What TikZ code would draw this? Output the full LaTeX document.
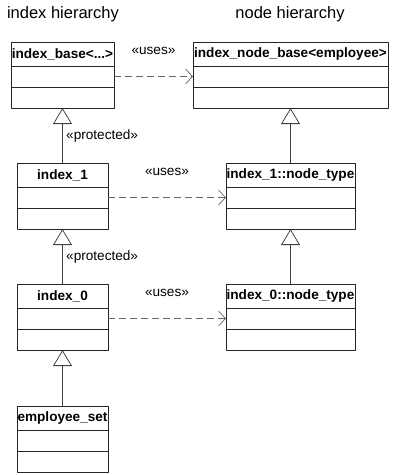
\documentclass[tikz,border=0pt]{standalone}
\usepackage{fontspec}
\setmainfont{Liberation Sans}
\usetikzlibrary{arrows.meta,positioning}
\begin{document}
\begin{tikzpicture}[x=1pt, y=1pt, font=\fontsize{13.6}{16}\selectfont, line join=round,
	head/.style={draw=black!85, line width=0.8pt, minimum height=24pt, inner sep=0pt, outer sep=0pt, font=\fontsize{13.6}{16}\selectfont\bfseries},
	comp/.style={draw=black!85, line width=0.8pt, minimum height=21pt, inner sep=0pt, outer sep=0pt},
	inherit/.style={draw=black!75, line width=0.8pt, -{Triangle[open, length=16pt, width=19pt, fill=white]}},
	uses/.style={draw=black!60, line width=0.7pt, dash pattern=on 7pt off 4pt, -{Straight Barb[length=7pt, width=15pt]}}]
	\useasboundingbox (0,0) rectangle (400,-475);
	\node (ttl) at (63,-14) {\fontsize{16.5}{19}\selectfont index hierarchy};
	\node (ttr) at (290,-14) {\fontsize{16.5}{19}\selectfont node hierarchy};
	% class boxes: header and two empty compartments
	\foreach \n/\x/\y/\w/\t in {ibase/11/42/103/{index\_base<...>}, nbase/193/42/195/{index\_node\_base<employee>},
		ione/17/163/91/{index\_1}, none/226/163/129/{index\_1::node\_type},
		izero/17/284/91/{index\_0}, nzero/226/284/129/{index\_0::node\_type},
		emp/17/406/91/{employee\_set}} {
		\node[head, minimum width=\w pt, anchor=north west] (\n) at (\x,-\y) {\t};
		\node[comp, minimum width=\w pt, below=0pt of \n] (\n-a) {};
		\node[comp, minimum width=\w pt, below=0pt of \n-a] (\n-b) {};
	}
	\draw[inherit] (ione.north) -- (ibase-b.south) node[midway, right]{«protected»};
	\draw[inherit] (izero.north) -- (ione-b.south) node[midway, right]{«protected»};
	\draw[inherit] (emp.north) -- (izero-b.south);
	\draw[inherit] (none.north) -- (nbase-b.south);
	\draw[inherit] (nzero.north) -- (none-b.south);
	\draw[uses] (ibase-a.east) -- (nbase-a.west) node[midway, yshift=26pt, text=black]{«uses»};
	\draw[uses] (ione-a.east) -- (none-a.west) node[midway, yshift=26pt, text=black]{«uses»};
	\draw[uses] (izero-a.east) -- (nzero-a.west) node[midway, yshift=26pt, text=black]{«uses»};
\end{tikzpicture}
\end{document}
